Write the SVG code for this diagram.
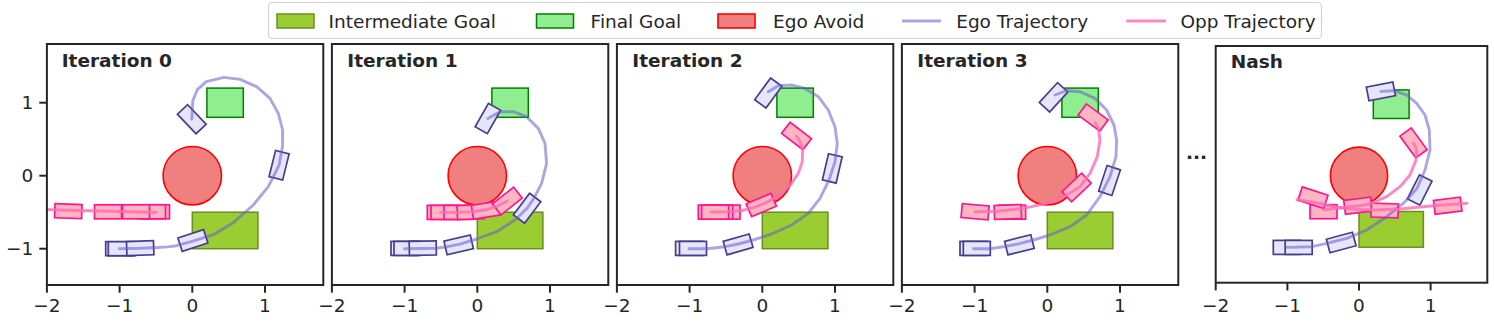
<svg xmlns="http://www.w3.org/2000/svg" xmlns:xlink="http://www.w3.org/1999/xlink" width="1494" height="323" viewBox="0 0 1494 323">
<style>
text{font-family:"DejaVu Sans","Liberation Sans",sans-serif;fill:#262626}
.tl{font-size:18.5px;text-anchor:middle}
.yl{font-size:18.5px;text-anchor:end}
.ttl{font-size:18.5px;font-weight:bold}
.lg{font-size:18.5px}
.frame{fill:none;stroke:#262626;stroke-width:2}
.tick{stroke:#262626;stroke-width:2}
.ig{fill:#9ACD32;stroke:#6B8E23;stroke-width:1.5}
.fg{fill:#90EE90;stroke:#008000;stroke-width:1.5}
.av{fill:#F08080;stroke:#FF0000;stroke-width:1.6}
.el{fill:none;stroke:#6A5ACD;stroke-opacity:0.55;stroke-width:2.9;stroke-linejoin:round;stroke-linecap:round}
.ol{fill:none;stroke:#FF69B4;stroke-opacity:0.8;stroke-width:2.9;stroke-linejoin:round;stroke-linecap:round}
</style>
<defs>
<rect id="eb" x="-13.5" y="-7" width="27" height="14" fill="#E6E6FA" stroke="#483D8B" stroke-width="1.7"/>
<rect id="ob" x="-13.5" y="-7" width="27" height="14" fill="#FFB6C1" stroke="#FF1493" stroke-width="1.7"/>
<clipPath id="c0"><rect x="-145.4" y="-131.7" width="276.4" height="241"/></clipPath>
<clipPath id="cn"><rect x="-143.3" y="-129.7" width="271.6" height="236.7"/></clipPath>
</defs>

<g id="legend">
<rect x="268.5" y="2.5" width="1053" height="36" rx="4" fill="#fff" stroke="#d3d3d3" stroke-width="1.2"/>
<rect x="277" y="14" width="37" height="14" class="ig"/>
<text class="lg" x="328.6" y="28">Intermediate Goal</text>
<rect x="536.5" y="14" width="37" height="14" class="fg"/>
<text class="lg" x="590.6" y="28">Final Goal</text>
<rect x="718" y="14" width="37" height="14" class="av"/>
<text class="lg" x="773" y="28">Ego Avoid</text>
<line x1="902" y1="21" x2="941" y2="21" class="el" style="stroke-linecap:butt"/>
<text class="lg" x="956.2" y="28">Ego Trajectory</text>
<line x1="1126.3" y1="21" x2="1166" y2="21" class="ol" style="stroke-linecap:butt"/>
<text class="lg" x="1180.4" y="28">Opp Trajectory</text>
</g>

<!-- Panel 0 -->
<g id="panel-iter0" transform="translate(192.3,175.7)">
<g clip-path="url(#c0)">
<rect x="0" y="36.5" width="65.6" height="36.5" class="ig"/>
<rect x="14.6" y="-87.6" width="36.4" height="29.2" class="fg"/>
<circle cx="0" cy="0" r="29.2" class="av"/>
<use xlink:href="#eb" transform="translate(-73.1,73)"/>
<use xlink:href="#eb" transform="translate(-70.5,73)"/>
<use xlink:href="#eb" transform="translate(-52.1,72.5) rotate(-2)"/>
<use xlink:href="#eb" transform="translate(0.6,64.8) rotate(-18)"/>
<use xlink:href="#eb" transform="translate(86.8,-10.5) rotate(-76)"/>
<use xlink:href="#eb" transform="translate(-0.5,-56.5) rotate(46.5)"/>
<use xlink:href="#ob" transform="translate(-36.3,36.1)"/>
<use xlink:href="#ob" transform="translate(-40.3,36.1)"/>
<use xlink:href="#ob" transform="translate(-56.3,36.1)"/>
<use xlink:href="#ob" transform="translate(-84.3,36.1)"/>
<use xlink:href="#ob" transform="translate(-124,35.5) rotate(2)"/>
<polyline class="el" points="-73,73 -52,72.6 -39,72 -25,71.2 -15.7,70 0.6,65.5 21,59 41,47 61,29.3 76,11 86.8,-10.5 90.3,-30 90.3,-45.7 86,-62.3 77.7,-77.3 64.3,-89 47.7,-96.3 31.7,-98.3 14,-94 5,-86 0.5,-75 -0.5,-56.5"/>
<polyline class="ol" points="-36.3,36.8 -80,35.5 -124,34.5 -160,33.3"/>
</g>
<rect x="-145.4" y="-131.7" width="276.4" height="241" class="frame"/>
<text class="ttl" x="-130.6" y="-109">Iteration 0</text>
<g class="tick">
<line x1="-145.4" y1="109.3" x2="-145.4" y2="117"/>
<line x1="-72.7" y1="109.3" x2="-72.7" y2="117"/>
<line x1="0" y1="109.3" x2="0" y2="117"/>
<line x1="72.7" y1="109.3" x2="72.7" y2="117"/>
<line x1="-145.4" y1="-73" x2="-153" y2="-73"/>
<line x1="-145.4" y1="0" x2="-153" y2="0"/>
<line x1="-145.4" y1="73" x2="-153" y2="73"/>
</g>
<text class="tl" x="-145.4" y="136">−2</text>
<text class="tl" x="-72.7" y="136">−1</text>
<text class="tl" x="0" y="136">0</text>
<text class="tl" x="72.7" y="136">1</text>
<text class="yl" x="-159" y="-66.5">1</text>
<text class="yl" x="-159" y="6.5">0</text>
<text class="yl" x="-159" y="79.5">−1</text>
</g>

<!-- Panel 1 -->
<g id="panel-iter1" transform="translate(477.3,175.7)">
<g clip-path="url(#c0)">
<rect x="0" y="36.5" width="65.6" height="36.5" class="ig"/>
<rect x="14.6" y="-87.6" width="36.4" height="29.2" class="fg"/>
<circle cx="0" cy="0" r="29.2" class="av"/>
<use xlink:href="#eb" transform="translate(-72.8,72.7)"/>
<use xlink:href="#eb" transform="translate(-69.8,72.7)"/>
<use xlink:href="#eb" transform="translate(-54.5,72.5) rotate(-1)"/>
<use xlink:href="#eb" transform="translate(-18.6,69.2) rotate(-13)"/>
<use xlink:href="#eb" transform="translate(49.8,32.6) rotate(-53)"/>
<use xlink:href="#eb" transform="translate(10.6,-57.2) rotate(-60.5)"/>
<use xlink:href="#ob" transform="translate(-36.5,36.7)"/>
<use xlink:href="#ob" transform="translate(-32.8,36.7)"/>
<use xlink:href="#ob" transform="translate(-19.8,36.7)"/>
<use xlink:href="#ob" transform="translate(-6.5,36.4) rotate(-2)"/>
<use xlink:href="#ob" transform="translate(8.5,34.5) rotate(-9)"/>
<use xlink:href="#ob" transform="translate(30,25.3) rotate(-38)"/>
<polyline class="el" points="-72.8,73 -55,72.8 -41.3,72.5 -30,71 -17.3,68.5 -0.7,63.3 19.3,56 37.7,44.3 49.8,32.6 57,22 64.3,7.7 69.3,-12.3 67.7,-32.3 61,-47.3 49.3,-59 36,-64 22.7,-64 10.6,-57.2"/>
<polyline class="ol" points="-36.5,36.7 -20,36.5 -6,36 8,34.3 20,30.5 30,25.3"/>
</g>
<rect x="-145.4" y="-131.7" width="276.4" height="241" class="frame"/>
<text class="ttl" x="-130" y="-109">Iteration 1</text>
<g class="tick">
<line x1="-145.4" y1="109.3" x2="-145.4" y2="117"/>
<line x1="-72.7" y1="109.3" x2="-72.7" y2="117"/>
<line x1="0" y1="109.3" x2="0" y2="117"/>
<line x1="72.7" y1="109.3" x2="72.7" y2="117"/>
</g>
<text class="tl" x="-145.4" y="136">−2</text>
<text class="tl" x="-72.7" y="136">−1</text>
<text class="tl" x="0" y="136">0</text>
<text class="tl" x="72.7" y="136">1</text>
</g>

<!-- Panel 2 -->
<g id="panel-iter2" transform="translate(762.3,175.7)">
<g clip-path="url(#c0)">
<rect x="0" y="36.5" width="65.6" height="36.5" class="ig"/>
<rect x="14.6" y="-87.6" width="36.4" height="29.2" class="fg"/>
<circle cx="0" cy="0" r="29.2" class="av"/>
<use xlink:href="#eb" transform="translate(-73.2,72.7)"/>
<use xlink:href="#eb" transform="translate(-69.3,72.7)"/>
<use xlink:href="#eb" transform="translate(-24.2,68.7) rotate(-16)"/>
<use xlink:href="#eb" transform="translate(70,-7.3) rotate(-77)"/>
<use xlink:href="#eb" transform="translate(6,-82.7) rotate(-54)"/>
<use xlink:href="#ob" transform="translate(-35.8,36.4)"/>
<use xlink:href="#ob" transform="translate(-43.1,36.4)"/>
<use xlink:href="#ob" transform="translate(-50.5,36.4)"/>
<use xlink:href="#ob" transform="translate(-47.2,36.4)"/>
<use xlink:href="#ob" transform="translate(-1,29.3) rotate(-23)"/>
<use xlink:href="#ob" transform="translate(34.2,-39.7) rotate(37.6)"/>
<polyline class="el" points="-73.2,73 -55.3,73 -37.3,71 -24,68.3 -9,64.3 9.3,58.3 29.3,49.3 46,37.7 57.7,22.7 66.7,4.3 72.7,-14 75,-32.3 72.7,-49 66,-65.7 56,-79 42.7,-87.3 29.3,-90.7 16,-90 6,-84"/>
<polyline class="ol" points="-51,36.3 -37,36.2 -20.7,35 -7.3,31.5 6,26 19.3,17.5 29.3,7.7 36,-2.3 40,-14 40.3,-25.7 37.7,-34 34.2,-39.7"/>
</g>
<rect x="-145.4" y="-131.7" width="276.4" height="241" class="frame"/>
<text class="ttl" x="-130" y="-109">Iteration 2</text>
<g class="tick">
<line x1="-145.4" y1="109.3" x2="-145.4" y2="117"/>
<line x1="-72.7" y1="109.3" x2="-72.7" y2="117"/>
<line x1="0" y1="109.3" x2="0" y2="117"/>
<line x1="72.7" y1="109.3" x2="72.7" y2="117"/>
</g>
<text class="tl" x="-145.4" y="136">−2</text>
<text class="tl" x="-72.7" y="136">−1</text>
<text class="tl" x="0" y="136">0</text>
<text class="tl" x="72.7" y="136">1</text>
</g>

<!-- Panel 3 -->
<g id="panel-iter3" transform="translate(1047.3,175.7)">
<g clip-path="url(#c0)">
<rect x="0" y="36.5" width="65.6" height="36.5" class="ig"/>
<rect x="14.6" y="-87.6" width="36.4" height="29.2" class="fg"/>
<circle cx="0" cy="0" r="29.2" class="av"/>
<use xlink:href="#eb" transform="translate(-73.8,72.7)"/>
<use xlink:href="#eb" transform="translate(-70.5,72.7)"/>
<use xlink:href="#eb" transform="translate(-27.9,69.1) rotate(-14)"/>
<use xlink:href="#eb" transform="translate(62.2,4.8) rotate(-71.6)"/>
<use xlink:href="#eb" transform="translate(6.3,-78.4) rotate(-47.6)"/>
<use xlink:href="#ob" transform="translate(-35.2,36.5)"/>
<use xlink:href="#ob" transform="translate(-39.5,36.3) rotate(-2)"/>
<use xlink:href="#ob" transform="translate(-72.2,36) rotate(5)"/>
<use xlink:href="#ob" transform="translate(29.3,11.8) rotate(-43.5)"/>
<use xlink:href="#ob" transform="translate(45.8,-58.2) rotate(36.4)"/>
<polyline class="el" points="-73.8,73 -57.3,73 -40.7,70.5 -27.9,68 -14,64.3 2.7,59.3 22.7,51 39.3,39.3 52.7,21 62.7,1 68.7,-19 69.3,-35.7 66.7,-50.7 59.3,-65.7 47.7,-77.3 32.7,-84 19.3,-85 7.7,-80.7"/>
<polyline class="ol" points="-72.3,36 -50,35.5 -24,32.7 -0.7,27.7 19.3,19.3 32.7,11 42.7,-2.3 50,-19 52.7,-35.7 51,-47.3 48,-53"/>
</g>
<rect x="-145.4" y="-131.7" width="276.4" height="241" class="frame"/>
<text class="ttl" x="-130" y="-109">Iteration 3</text>
<g class="tick">
<line x1="-145.4" y1="109.3" x2="-145.4" y2="117"/>
<line x1="-72.7" y1="109.3" x2="-72.7" y2="117"/>
<line x1="0" y1="109.3" x2="0" y2="117"/>
<line x1="72.7" y1="109.3" x2="72.7" y2="117"/>
</g>
<text class="tl" x="-145.4" y="136">−2</text>
<text class="tl" x="-72.7" y="136">−1</text>
<text class="tl" x="0" y="136">0</text>
<text class="tl" x="72.7" y="136">1</text>
</g>

<text id="ellipsis" class="ttl" x="1186" y="158.5">...</text>

<!-- Nash -->
<g id="panel-nash" transform="translate(1359,175.7)">
<g clip-path="url(#cn)">
<rect x="0" y="35.8" width="64.4" height="35.7" class="ig"/>
<rect x="14.3" y="-85.8" width="35.8" height="28.6" class="fg"/>
<circle cx="0" cy="0" r="28.6" class="av"/>
<use xlink:href="#eb" transform="translate(-72.2,71.7)"/>
<use xlink:href="#eb" transform="translate(-60.3,71.7)"/>
<use xlink:href="#eb" transform="translate(-17.8,66.8) rotate(-15)"/>
<use xlink:href="#eb" transform="translate(60.7,14.3) rotate(-63.4)"/>
<use xlink:href="#eb" transform="translate(21.9,-84.3) rotate(-11)"/>
<use xlink:href="#ob" transform="translate(-35.5,36)"/>
<use xlink:href="#ob" transform="translate(-46,22) rotate(18)"/>
<use xlink:href="#ob" transform="translate(-1,30) rotate(-7)"/>
<use xlink:href="#ob" transform="translate(25.7,34.8) rotate(2)"/>
<use xlink:href="#ob" transform="translate(88.7,30) rotate(-7)"/>
<use xlink:href="#ob" transform="translate(54.5,-32.8) rotate(54)"/>
<polyline class="el" points="-72.3,71.7 -47,71 -32.3,67.7 -12.3,62.7 7.7,54.3 27.7,41 44.3,27.7 58,12.7 66,-5.7 71,-25.7 70.3,-45.7 66,-60.7 57.7,-72.3 47.7,-80.7 34.3,-85 21.9,-84.3"/>
<polyline class="ol" points="-62,24 -46,26.5 -32,29.5 -15,32.5 0,33.8 14,34.3 41,33.3 74.3,30 108,27.5"/>
<polyline class="ol" points="-35.5,34 -14,31.5 0,30 11,28.3 27.7,21 41,11 51,-0.7 57,-15.7 57.7,-25.7 54.5,-32.8"/>
</g>
<rect x="-143.3" y="-129.7" width="271.6" height="236.7" class="frame"/>
<text class="ttl" x="-128.3" y="-107.4">Nash</text>
<g class="tick">
<line x1="-143.3" y1="107" x2="-143.3" y2="114.7"/>
<line x1="-71.6" y1="107" x2="-71.6" y2="114.7"/>
<line x1="0" y1="107" x2="0" y2="114.7"/>
<line x1="71.6" y1="107" x2="71.6" y2="114.7"/>
</g>
<text class="tl" x="-143.3" y="136">−2</text>
<text class="tl" x="-71.6" y="136">−1</text>
<text class="tl" x="0" y="136">0</text>
<text class="tl" x="71.6" y="136">1</text>
</g>
</svg>
